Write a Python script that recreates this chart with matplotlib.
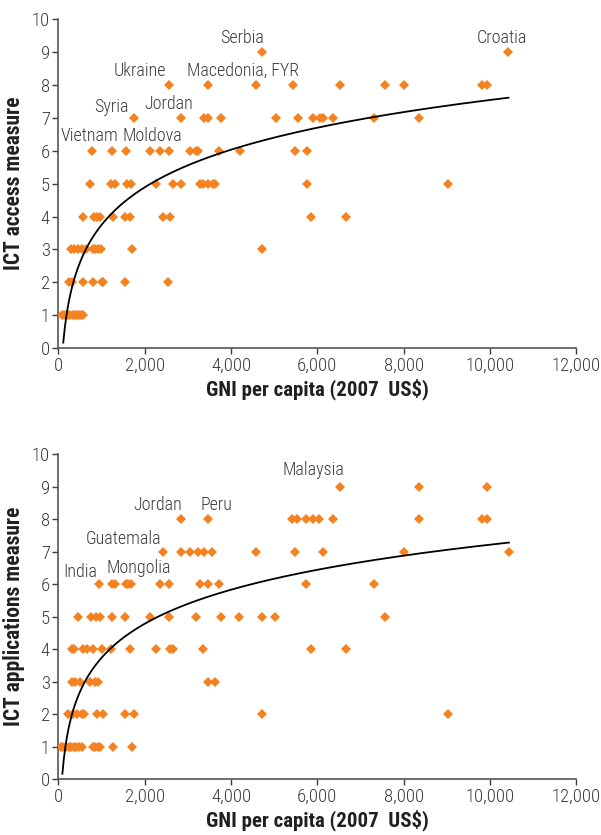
import numpy as np
import matplotlib
matplotlib.use("Agg")
import matplotlib.pyplot as plt
from matplotlib.ticker import FuncFormatter, MultipleLocator

plt.rcParams['font.family'] = ['Roboto Condensed', 'DejaVu Sans']

ORANGE = '#F58220'
GREY = '#3c3c3c'

# ICT access measure: GNI per capita grouped by score
access_gni = {
    1: [80, 130, 180, 230, 280, 330, 380, 430, 480, 530, 580],
    2: [247, 323, 577, 808, 1001, 1038, 1539, 2538],
    3: [300, 370, 460, 560, 650, 800, 860, 920, 980, 1716, 4715],
    4: [562, 831, 908, 962, 1269, 1555, 1654, 2415, 2593, 5845, 6660],
    5: [731, 1216, 1308, 1601, 1693, 2261, 2646, 2846, 3292, 3345, 3461,
        3576, 3638, 5753, 9020],
    6: [770, 1255, 1578, 2132, 2353, 2554, 3061, 3193, 3246, 3715, 4208,
        5484, 5753],
    7: [1746, 2846, 3384, 3461, 3769, 5038, 5560, 5906, 6053, 6137, 6360,
        7306, 8345],
    8: [2554, 3461, 4584, 5437, 6522, 7560, 8015, 9805, 9936],
    9: [4715, 10428],
}
access_labels = ['Serbia', 'Croatia', 'Ukraine', 'Macedonia, FYR', 'Syria',
                 'Jordan', 'Vietnam', 'Moldova']
access_label_x = [4261, 10283, 1887, 4284, 1241, 2556, 724, 2173]
access_label_y = [9.42, 9.42, 8.42, 8.42, 7.33, 7.42, 6.44, 6.44]

# ICT applications measure
apps_gni = {
    1: [60, 120, 180, 240, 300, 360, 420, 480, 540, 800, 860, 920, 962,
        1269, 1716],
    2: [231, 346, 424, 539, 600, 886, 1038, 1539, 1746, 4715, 9020],
    3: [309, 385, 500, 731, 847, 923, 3461, 3630],
    4: [323, 360, 577, 655, 794, 1001, 1232, 1654, 2254, 2577, 2653, 3361,
        5845, 6660],
    5: [448, 747, 870, 962, 1255, 1555, 2123, 2554, 3193, 3769, 4192, 4715,
        5030, 7560],
    6: [932, 1255, 1308, 1562, 1615, 1693, 2353, 2554, 3292, 3461, 3715,
        5745, 7306],
    7: [2423, 2846, 3061, 3230, 3384, 3553, 4584, 5484, 6137, 8015, 10437],
    8: [2846, 3461, 5421, 5537, 5745, 5906, 6045, 6353, 8345, 9805, 9929],
    9: [6522, 8345, 9921],
}
apps_labels = ['Malaysia', 'Jordan', 'Peru', 'Guatemala', 'India', 'Mongolia']
apps_label_x = [5899, 2300, 3673, 1516, 500, 1862]
apps_label_y = [9.52, 8.42, 8.42, 7.39, 6.37, 6.49]


def flatten(groups):
    xs, ys = [], []
    for score, vals in groups.items():
        xs.extend(vals)
        ys.extend([score] * len(vals))
    return np.array(xs, float), np.array(ys, float)


def draw_panel(ax, groups, labels, lx, ly, ylabel):
    x, y = flatten(groups)
    ax.plot(x, y, linestyle='none', marker='D', markersize=4.8,
            color=ORANGE, markeredgewidth=0, zorder=3)

    # logarithmic trend line fitted to the scores
    a, b = np.polyfit(np.log(x), y, 1)
    xs = np.linspace(x.min(), x.max(), 300)
    ys = a * np.log(xs) + b
    keep = ys >= 0
    ax.plot(xs[keep], ys[keep], color='black', linewidth=1.3, zorder=4)

    for name, tx, ty in zip(labels, lx, ly):
        ax.text(tx, ty, name, ha='center', va='center', fontsize=13,
                color=GREY, fontweight='light')

    ax.set_xlim(0, 12000)
    ax.set_ylim(0, 10)
    ax.xaxis.set_major_locator(MultipleLocator(2000))
    ax.yaxis.set_major_locator(MultipleLocator(1))
    ax.xaxis.set_major_formatter(FuncFormatter(lambda v, p: f'{v:,.0f}'))
    ax.tick_params(labelsize=13.5, colors=GREY, length=4, width=1, pad=2)
    for lab in ax.get_xticklabels() + ax.get_yticklabels():
        lab.set_fontweight('light')
    for side in ('top', 'right'):
        ax.spines[side].set_visible(False)
    for side in ('left', 'bottom'):
        ax.spines[side].set_color('#555555')
        ax.spines[side].set_linewidth(1.2)
    ax.set_xlabel('GNI per capita (2007  US$)', fontsize=15,
                  fontweight='bold', color='#231f20', labelpad=3)
    ax.set_ylabel(ylabel, fontsize=15.5, fontweight='bold', color='#231f20',
                  labelpad=5)


fig = plt.figure(figsize=(6.01, 8.35), dpi=100)
ax1 = fig.add_axes([0.097, 0.583, 0.862, 0.394])
ax2 = fig.add_axes([0.097, 0.0667, 0.862, 0.3896])

draw_panel(ax1, access_gni, access_labels, access_label_x, access_label_y,
           'ICT access measure')
draw_panel(ax2, apps_gni, apps_labels, apps_label_x, apps_label_y,
           'ICT applications measure')

fig.savefig('out.png', dpi=100)
